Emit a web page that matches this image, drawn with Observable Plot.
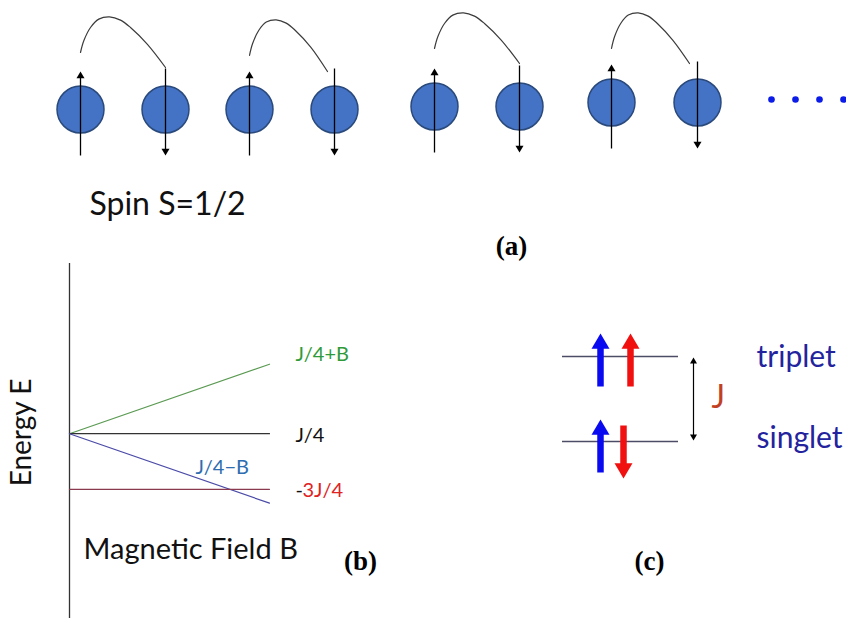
<!DOCTYPE html>
<html>
<head>
<meta charset="utf-8">
<script src="https://cdn.jsdelivr.net/npm/d3@7"></script>
<script src="https://cdn.jsdelivr.net/npm/@observablehq/plot@0.6"></script>
<style>
  html, body { margin: 0; padding: 0; background: #fff; }
  #wrap { position: relative; width: 846px; height: 634px; }
  #wrap svg { position: absolute; left: 0; top: 0; }
</style>
</head>
<body>
<div id="wrap"></div>
<script>
// ---------- Panel (a): spin chain ----------
const spinX   = [80, 165, 249, 334, 434, 519, 611, 697];
const spinY   = [109, 109, 109, 109, 106, 106, 102, 102];
const spinDir = [1, -1, 1, -1, 1, -1, 1, -1];          // +1 = up, -1 = down
const hopStartX = [80, 249, 434, 611];
const hopStartY = [52, 55, 48, 48];
const hopSpan   = [85, 78, 85, 78];
const hopShapeDX = [0, 3.3, 10, 18.3, 29, 40, 50, 66.7, 85];
const hopShapeDY = [0, -11.7, -25, -33.4, -35.7, -32.4, -25, -8.4, 15];
const ellipsisX = [771, 795, 819, 843];
const ellipsisY = 99;

// ---------- Panel (b): energy levels vs magnetic field ----------
const J = 0.8;
const fieldB = [0, 1];
const levelNamesB = ["J/4+B", "J/4", "J/4\u2212B", "-3J/4"];
const levelE0 = [J / 4, J / 4, J / 4, -3 * J / 4];
const levelE1 = [J / 4 + 1, J / 4, J / 4 - 1, -3 * J / 4];
const levelColorsB = ["#5a9a52", "#333333", "#4a4aa8", "#8a3a4e"];
const energyDomain = [-2.46, 2.65];

// ---------- Panel (c): singlet / triplet ----------
const stateNames = ["triplet", "singlet"];
const stateY = [356, 441];
const stateX = [562, 678];
const cArrowX    = [600, 630, 600, 623];
const cArrowTail = [386, 386, 472, 425];
const cArrowTip  = [333, 333, 419, 478];
const cArrowCol  = ["#0a0af0", "#f01010", "#0a0af0", "#f01010"];
const gapX = 693, gapY = [357, 440];

// ---------- Text ----------
const labelTexts = ["Spin S=1/2", "(a)", "(b)", "(c)", "Energy E", "Magnetic Field B", "J", "triplet", "singlet"];

// triangle symbol with tip at origin
function tri(dir) {
  return {
    draw(ctx, size) {
      const r = Math.sqrt(size / Math.PI);
      const h = 1.7 * r * dir;
      ctx.moveTo(0, 0);
      ctx.lineTo(-r, h);
      ctx.lineTo(r, h);
      ctx.closePath();
    }
  };
}
const triUp = tri(1), triDown = tri(-1);

const spins = spinX.map((x, i) => ({x, y: spinY[i], dir: spinDir[i]}));
spins.forEach(s => {
  if (s.dir > 0) { s.tail = s.y + 46; s.tip = s.y - 38; }
  else { s.tail = s.y - 41; s.tip = s.y + 46; }
});
const hops = [];
hopStartX.forEach((sx, p) => {
  hopShapeDX.forEach((dx, k) => {
    hops.push({pair: p, x: sx + dx * hopSpan[p] / 85, y: hopStartY[p] + hopShapeDY[k] + (p === 1 && k === hopShapeDX.length - 1 ? 1 : 0)});
  });
});
const ellipsis = ellipsisX.map(x => ({x, y: ellipsisY}));

const cArrows = cArrowX.map((x, i) => ({x, tail: cArrowTail[i], tip: cArrowTip[i], color: cArrowCol[i], up: cArrowTip[i] < cArrowTail[i]}));
const states = stateNames.map((n, i) => ({name: n, y: stateY[i]}));

const W = 846, H = 634;
const sans = "Lato, 'Open Sans', sans-serif";
const serif = "'Liberation Serif', 'DejaVu Serif', serif";

const texts = [
  {t: labelTexts[0], x: 89, y: 204, size: 32, color: "#111", anchor: "start", font: sans, weight: "normal", rot: 0},
  {t: labelTexts[1], x: 511, y: 246, size: 27, color: "#000", anchor: "middle", font: serif, weight: "bold", rot: 0},
  {t: labelTexts[2], x: 360, y: 561, size: 27, color: "#000", anchor: "middle", font: serif, weight: "bold", rot: 0},
  {t: labelTexts[3], x: 649, y: 561, size: 27, color: "#000", anchor: "middle", font: serif, weight: "bold", rot: 0},
  {t: labelTexts[4], x: 22, y: 432, size: 28, color: "#111", anchor: "middle", font: sans, weight: "normal", rot: -90},
  {t: labelTexts[5], x: 83, y: 549, size: 29, color: "#111", anchor: "start", font: sans, weight: "normal", rot: 0},
  {t: labelTexts[6], x: 711, y: 397, size: 32, color: "#c2401f", anchor: "start", font: sans, weight: "normal", rot: 0},
  {t: labelTexts[7], x: 756, y: 357, size: 30, color: "#23239e", anchor: "start", font: sans, weight: "normal", rot: 0},
  {t: labelTexts[8], x: 756, y: 438, size: 30, color: "#23239e", anchor: "start", font: sans, weight: "normal", rot: 0}
];

const main = Plot.plot({
  width: W, height: H, margin: 0,
  x: {domain: [0, W], range: [0, W], axis: null},
  y: {domain: [0, H], range: [0, H], axis: null},
  style: {background: "transparent", fontFamily: sans},
  marks: [
    // hop arcs
    Plot.line(hops, {x: "x", y: "y", z: "pair", curve: "catmull-rom", stroke: "#3c3c3c", strokeWidth: 1.2}),
    // spins
    Plot.dot(spins, {x: "x", y: "y", r: 23.5, fill: "#4472c4", stroke: "#2b4a7c", strokeWidth: 1.5}),
    Plot.link(spins, {x1: "x", x2: "x", y1: "tail", y2: d => d.tip + (d.dir > 0 ? 5 : -5), stroke: "#000", strokeWidth: 1.3}),
    Plot.dot(spins.filter(d => d.dir > 0), {x: "x", y: "tip", r: 4, symbol: triUp, fill: "#000", stroke: "none"}),
    Plot.dot(spins.filter(d => d.dir < 0), {x: "x", y: "tip", r: 4, symbol: triDown, fill: "#000", stroke: "none"}),
    Plot.dot(ellipsis, {x: "x", y: "y", r: 3.3, fill: "#0b1be8", stroke: "none"}),
    // panel (c)
    Plot.ruleY(states, {y: "y", x1: stateX[0], x2: stateX[1], stroke: "#4c4c66", strokeWidth: 1.3}),
    Plot.link(cArrows, {x1: "x", x2: "x", y1: "tail", y2: d => d.up ? d.tip + 12 : d.tip - 12, stroke: "color", strokeWidth: 6.5}),
    Plot.dot(cArrows.filter(d => d.up), {x: "x", y: "tip", r: 9, symbol: triUp, fill: "color", stroke: "none"}),
    Plot.dot(cArrows.filter(d => !d.up), {x: "x", y: "tip", r: 9, symbol: triDown, fill: "color", stroke: "none"}),
    Plot.link([{x: gapX, y1: gapY[0], y2: gapY[1]}], {x1: "x", x2: "x", y1: d => d.y1 + 4, y2: d => d.y2 - 4, stroke: "#000", strokeWidth: 1.2}),
    Plot.dot([{x: gapX, y: gapY[0]}], {x: "x", y: "y", r: 3.5, symbol: triUp, fill: "#000", stroke: "none"}),
    Plot.dot([{x: gapX, y: gapY[1]}], {x: "x", y: "y", r: 3.5, symbol: triDown, fill: "#000", stroke: "none"}),
    // texts
    ...texts.map(d => Plot.text([d], {x: "x", y: "y", text: "t", fontSize: d.size, fill: d.color, textAnchor: d.anchor,
      fontFamily: d.font, fontWeight: d.weight, rotate: d.rot}))
  ]
});

// panel (b) with its own field / energy scales
const levels = [];
levelNamesB.forEach((n, i) => {
  levels.push({name: n, B: fieldB[0], E: levelE0[i], color: levelColorsB[i]});
  levels.push({name: n, B: fieldB[1], E: levelE1[i], color: levelColorsB[i]});
});
const bLabels = [
  {t: "J/4+B", B: 1, E: levelE1[0], dx: 26, dy: -10, color: "#2f9a3a"},
  {t: "J/4", B: 1, E: levelE1[1], dx: 26, dy: 2, color: "#111"},
  {t: "J/4\u2212B", B: 0.635, E: levelE0[2] - 0.635, dx: -1, dy: -10, color: "#2d6db0"},
  {t: "-", B: 1, E: levelE1[3], dx: 26, dy: 1, color: "#111"},
  {t: "3J/4", B: 1, E: levelE1[3], dx: 33, dy: 1, color: "#e02222"}
];
const panelB = Plot.plot({
  width: W, height: H,
  marginLeft: 69, marginRight: W - 269, marginTop: 263, marginBottom: H - 618,
  x: {domain: [0, 1], axis: null},
  y: {domain: energyDomain, axis: null},
  style: {background: "transparent", fontFamily: sans, overflow: "visible"},
  marks: [
    Plot.ruleX([0], {stroke: "#333", strokeWidth: 1.3}),
    Plot.line(levels, {x: "B", y: "E", z: "name", stroke: "color", strokeWidth: 1.2}),
    ...bLabels.map(d => Plot.text([d], {x: "B", y: "E", text: "t", dx: d.dx, dy: d.dy, fill: d.color,
      textAnchor: "start", fontSize: 20}))
  ]
});

const wrap = document.getElementById("wrap");
wrap.appendChild(main);
wrap.appendChild(panelB);
</script>
</body>
</html>
